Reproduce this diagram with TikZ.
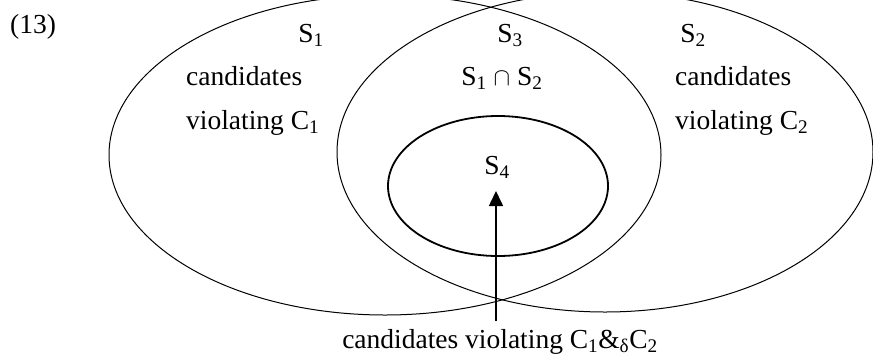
\documentclass[tikz,border=0pt]{standalone}
\usepackage{fontspec}
\setmainfont{Liberation Serif}
\usetikzlibrary{arrows.meta}

\begin{document}
\begin{tikzpicture}[x=1pt,y=1pt,
    txt/.style={inner sep=0pt,font=\fontsize{27.5}{31}\selectfont},
    setline/.style={line width=1pt},
    subline/.style={line width=1.8pt}]
        \useasboundingbox (0,0) rectangle (873,-357);
        \clip (0,0) rectangle (873,-357);

        % the three sets
        \draw[setline] (385,-155) ellipse [x radius=276, y radius=160];
        \draw[setline] (605,-152) ellipse [x radius=268, y radius=160];
        \draw[subline] (498,-186) ellipse [x radius=110, y radius=70];

        \node[txt,anchor=base west] (num) at (10,-33) {(13)};

        \node[txt,anchor=base] (s1) at (311,-42) {S\textsubscript{1}};
        \node[txt,anchor=base] (s3) at (510,-42) {S\textsubscript{3}};
        \node[txt,anchor=base] (s2) at (693,-42) {S\textsubscript{2}};

        \node[txt,anchor=base west] (cand1) at (186,-85) {candidates};
        \node[txt,anchor=base west] (viol1) at (186,-129) {violating C\textsubscript{1}};
        \node[txt,anchor=base] (meet) at (502,-85) {S\textsubscript{1} $\cap$ S\textsubscript{2}};
        \node[txt,anchor=base west] (cand2) at (675,-85) {candidates};
        \node[txt,anchor=base west] (viol2) at (675,-129) {violating C\textsubscript{2}};

        \node[txt,anchor=base] (s4) at (497,-174) {S\textsubscript{4}};

        \node[txt,anchor=base] (lbl) at (500,-348) {candidates violating C\textsubscript{1}\&\textsubscript{δ}C\textsubscript{2}};

        \coordinate (tail) at (496,-321);
        \coordinate (tip) at (496,-191);
        \draw[-{Triangle[length=15pt,width=14pt]},line width=1.6pt] (tail) -- (tip);
      \end{tikzpicture}
\end{document}
